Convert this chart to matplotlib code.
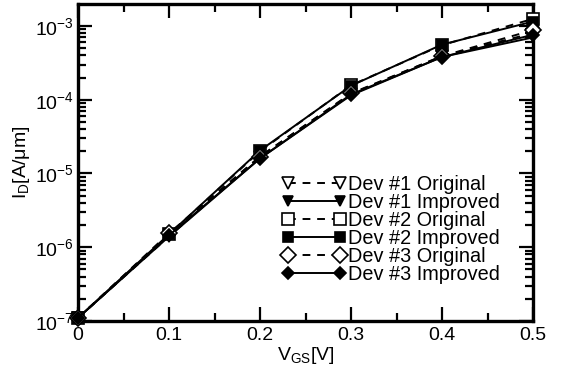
import matplotlib
matplotlib.use("Agg")
import matplotlib.pyplot as plt
from matplotlib.ticker import LogLocator, MultipleLocator, NullFormatter

plt.rcParams['font.family'] = ['Liberation Sans', 'DejaVu Sans']
plt.rcParams['mathtext.fontset'] = 'custom'
plt.rcParams['mathtext.rm'] = 'Liberation Sans'
plt.rcParams['mathtext.it'] = 'Liberation Sans'
plt.rcParams['mathtext.sf'] = 'Liberation Sans'

vgs = [0.0, 0.1, 0.2, 0.3, 0.4, 0.5]
dev1_orig = [1.1e-7, 1.4e-6, 1.7e-5, 1.2e-4, 3.9e-4, 8.0e-4]
dev1_impr = [1.1e-7, 1.4e-6, 1.6e-5, 1.15e-4, 3.8e-4, 7.0e-4]
dev2_orig = [1.1e-7, 1.5e-6, 2.0e-5, 1.57e-4, 5.5e-4, 1.25e-3]
dev2_impr = [1.1e-7, 1.5e-6, 2.05e-5, 1.55e-4, 5.6e-4, 1.15e-3]
dev3_orig = [1.1e-7, 1.55e-6, 1.7e-5, 1.22e-4, 3.9e-4, 8.8e-4]
dev3_impr = [1.1e-7, 1.45e-6, 1.6e-5, 1.18e-4, 3.8e-4, 7.6e-4]
labels = ["Dev #1 Original", "Dev #1 Improved", "Dev #2 Original",
          "Dev #2 Improved", "Dev #3 Original", "Dev #3 Improved"]
xticklabels = ['0', '0.1', '0.2', '0.3', '0.4', '0.5']

W, H = 563, 376
fig = plt.figure(figsize=(W/100, H/100), dpi=100)
L, R, T, B = 78, 533, 4, 321
ax = fig.add_axes([L/W, 1-B/H, (R-L)/W, (B-T)/H])

series = [dev1_orig, dev1_impr, dev2_orig, dev2_impr, dev3_orig, dev3_impr]
markers = ['v', 'v', 's', 's', 'D', 'D']
sizes = [9, 7.5, 9, 6.5, 8, 6]
for i, (y, m, s, lab) in enumerate(zip(series, markers, sizes, labels)):
    orig = (i % 2 == 0)
    ax.plot(vgs, y, marker=m, ms=s, lw=1.4,
            ls=(0, (4, 3.5)) if orig else '-', color='black',
            mfc='white' if orig else 'black', mec='black', mew=1.2,
            label=lab, clip_on=False, zorder=3)

ax.set_yscale('log')
ax.set_xlim(0, 0.5)
ax.set_ylim(1e-7, 1e-3 * 10 ** ((26 - T) / 73.75))
ax.set_xticks(vgs)
ax.set_xticklabels(xticklabels)
ax.xaxis.set_minor_locator(MultipleLocator(0.05))
ax.yaxis.set_major_locator(LogLocator(base=10, numticks=20))
ax.yaxis.set_minor_locator(LogLocator(base=10, subs=range(2, 10), numticks=20))
ax.yaxis.set_minor_formatter(NullFormatter())
ax.tick_params(which='both', direction='in', top=True, right=True, labelsize=14, width=1.6)
ax.tick_params(which='major', length=10, pad=4)
ax.tick_params(axis='y', which='major', pad=3)
ax.tick_params(which='minor', length=5.5)
for sp in ax.spines.values():
    sp.set_linewidth(2.4)

ax.set_xlabel(r'V$_{\mathrm{GS}}$[V]', fontsize=14, labelpad=1)
ax.set_ylabel(r'I$_{\mathrm{D}}$[A/$\mu$m]', fontsize=14, labelpad=2)

leg = ax.legend(loc='upper left', bbox_to_anchor=(282/W, 1-175/H),
                bbox_transform=fig.transFigure, frameon=False,
                fontsize=14.3, numpoints=2, handlelength=3.2, handletextpad=0.1,
                labelspacing=-0.05, borderpad=0, borderaxespad=0)

fig.savefig('out.png', dpi=100)
